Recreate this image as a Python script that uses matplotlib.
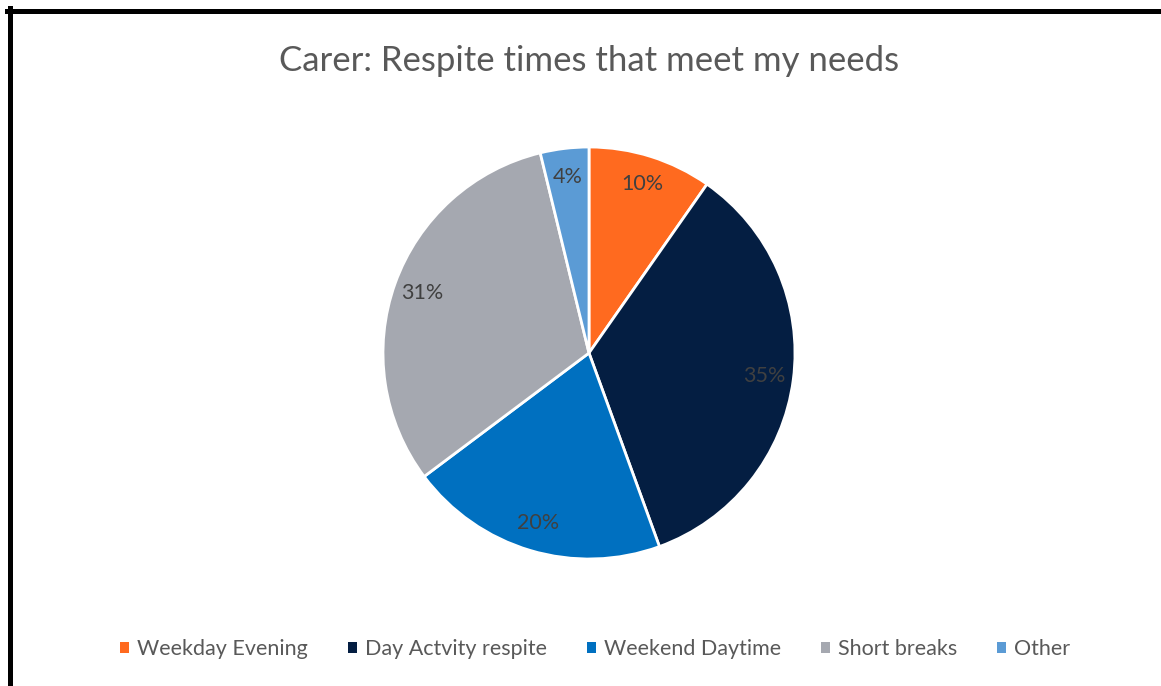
import matplotlib
matplotlib.use("Agg")
import matplotlib.pyplot as plt
from matplotlib.patches import Patch
from matplotlib.lines import Line2D

categories = ["Weekday Evening", "Day Actvity respite", "Weekend Daytime", "Short breaks", "Other"]
values = [9.7, 34.7, 20.3, 31.4, 3.8]
colors = ["#FF6A1F", "#041E42", "#0070C0", "#A5A8B0", "#5B9BD5"]
title = "Carer: Respite times that meet my needs"

plt.rcParams['font.family'] = ['Lato', 'DejaVu Sans']

W, H = 1161, 686
fig = plt.figure(figsize=(W / 100, H / 100), dpi=100)
fig.patch.set_facecolor("white")

cx, cy, R = 589, 353, 206
ax = fig.add_axes([(cx - R) / W, (H - cy - R) / H, 2 * R / W, 2 * R / H])
wedges, texts, autotexts = ax.pie(
    values, colors=colors, startangle=90, counterclock=False,
    autopct=lambda p: f"{p:.0f}%", pctdistance=0.86,
    wedgeprops=dict(edgecolor="white", linewidth=2.0),
    textprops=dict(color="#404040", fontsize=15.5),
)
ax.set_xlim(-1, 1)
ax.set_ylim(-1, 1)
ax.axis("off")

fig.text(cx / W, 1 - 61 / H, title, ha="center", va="center", fontsize=25, color="#595959")

handles = [Patch(facecolor=c, edgecolor="none") for c in colors]
fig.legend(handles, categories, loc="center", bbox_to_anchor=(595 / W, 37 / H), ncol=5,
           frameon=False, fontsize=15.5, labelcolor="#595959",
           handlelength=0.42, handleheight=0.42, handletextpad=0.37, columnspacing=1.85)

# border (left and top)
fig.add_artist(Line2D([9.5 / W, 9.5 / W], [0, 1 - 8 / H], color="black", linewidth=3.6,
                      transform=fig.transFigure, solid_capstyle="projecting"))
fig.add_artist(Line2D([7 / W, 1], [1 - 10.5 / H, 1 - 10.5 / H], color="black", linewidth=3.6,
                      transform=fig.transFigure))

fig.savefig("out.png", dpi=100, facecolor="white")
